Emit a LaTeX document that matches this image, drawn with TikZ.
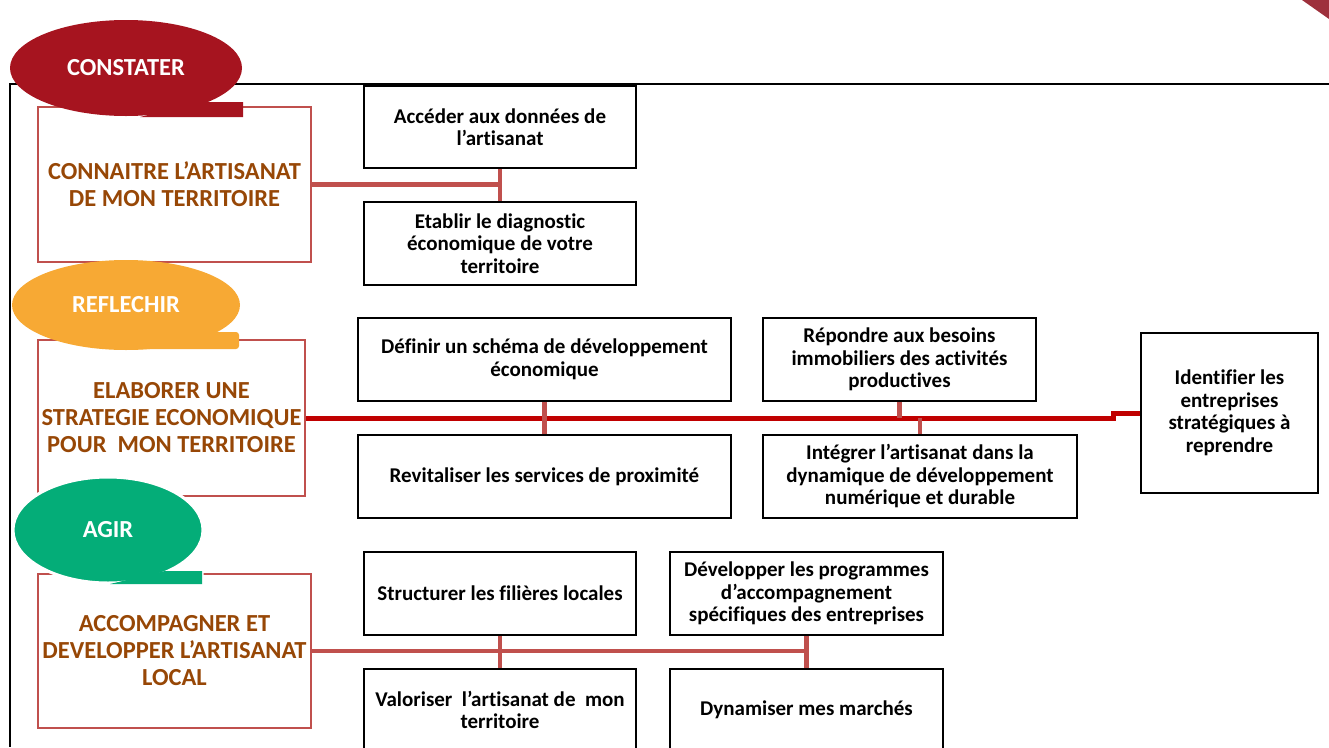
\documentclass[tikz,border=0pt]{standalone}
\usepackage{fontspec}
\setmainfont{Carlito}[Ligatures=NoCommon]
\usetikzlibrary{shapes.geometric}
\definecolor{constred}{RGB}{166,20,31}
\definecolor{reflorange}{RGB}{247,169,52}
\definecolor{agirgreen}{RGB}{4,173,120}
\definecolor{boxred}{RGB}{192,80,77}
\definecolor{mainred}{RGB}{192,0,0}
\definecolor{themebrown}{RGB}{151,71,6}
\definecolor{cornerred}{RGB}{158,48,60}
\begin{document}
\begin{tikzpicture}[x=1pt,y=-1pt,
                box/.style={draw=black,line width=2.2pt,fill=white,align=center,inner sep=0pt,
                  font=\fontsize{21}{22.5}\selectfont\bfseries},
                theme/.style={draw=boxred,line width=2pt,align=center,inner sep=0pt,text=themebrown,
                  font=\fontsize{24.5}{27}\selectfont\bfseries},
                bubble/.style={ellipse,fill=#1,text=white,inner sep=0pt,
                  font=\fontsize{24.5}{27}\selectfont\bfseries},
                link/.style={draw=boxred,line width=4.5pt},
                mainlink/.style={draw=mainred,line width=5pt}]
                \useasboundingbox (0,0) rectangle (1329,747);
                \fill[cornerred] (1302,0) -- (1329,0) -- (1329,19) -- cycle;
                \draw[line width=2.5pt] (1329,84) -- (10,84) -- (10,747);
                % themes
                \node[theme,minimum width=273pt,minimum height=155pt] (connaitre) at (174.5,184.5)
                  {CONNAITRE L’ARTISANAT\\DE MON TERRITOIRE};
                \node[theme,minimum width=267pt,minimum height=156pt] (elaborer) at (171.5,418)
                  {ELABORER UNE\\STRATEGIE ECONOMIQUE\\POUR\ \ MON TERRITOIRE};
                \node[theme,minimum width=273pt,minimum height=154pt] (accompagner) at (174.5,651)
                  {ACCOMPAGNER ET\\DEVELOPPER L’ARTISANAT\\LOCAL};
                % bubbles
                \fill[constred] (200,102) -- (243,102) -- (243,117) -- (140,117) -- cycle;
                \node[bubble=constred,minimum width=232pt,minimum height=96pt] (constater) at (126,68) {CONSTATER};
                \fill[reflorange,rounded corners=3pt] (196,332) -- (239,332) -- (239,349) -- (126,349) -- cycle;
                \node[bubble=reflorange,minimum width=228pt,minimum height=90pt] (reflechir) at (126,305) {REFLECHIR};
                \draw[white,line width=3pt] (165,571) -- (202,571) -- (202,584) -- (110,584) -- cycle;
                \node[bubble=agirgreen,draw=white,line width=3pt,minimum width=190pt,minimum height=106pt] (agir) at (108,530) {AGIR};
                \fill[agirgreen] (165,571) -- (202,571) -- (202,584) -- (110,584) -- cycle;
                % actions
                \node[box,minimum width=272pt,minimum height=82pt] (acceder) at (500,127)
                  {Accéder aux données de\\l’artisanat};
                \node[box,minimum width=272pt,minimum height=83pt] (diagnostic) at (500,243.5)
                  {Etablir le diagnostic\\économique de votre\\territoire};
                \node[box,minimum width=373pt,minimum height=83pt] (definir) at (544.5,359.5)
                  {Définir un schéma de développement\\économique};
                \node[box,minimum width=373pt,minimum height=83pt] (revitaliser) at (544.5,476.5)
                  {Revitaliser les services de proximité};
                \node[box,minimum width=273pt,minimum height=83pt] (repondre) at (899.5,359.5)
                  {Répondre aux besoins\\immobiliers des activités\\productives};
                \node[box,minimum width=314pt,minimum height=83pt] (integrer) at (920,476.5)
                  {Intégrer l’artisanat dans la\\dynamique de développement\\numérique et durable};
                \node[box,minimum width=177pt,minimum height=160pt] (identifier) at (1229.5,413)
                  {Identifier les\\entreprises\\stratégiques à\\reprendre};
                \node[box,minimum width=272pt,minimum height=83pt] (structurer) at (500,593.5)
                  {Structurer les filières locales};
                \node[box,minimum width=273pt,minimum height=83pt] (developper) at (806.5,593.5)
                  {Développer les programmes\\d’accompagnement\\spécifiques des entreprises};
                \node[box,minimum width=272pt,minimum height=82pt] (valoriser) at (500,710)
                  {Valoriser\ \ l’artisanat de\ \ mon\\territoire};
                \node[box,minimum width=273pt,minimum height=82pt] (dynamiser) at (806.5,710)
                  {Dynamiser mes marchés};
                % links
                \draw[link] (connaitre.east) -- (connaitre.east -| acceder.south);
                \draw[link] (acceder.south) -- (diagnostic.north);
                \draw[mainlink] (elaborer.east) -| ([xshift=-26pt]identifier.west) -- (identifier.west);
                \draw[link] (definir.south) -- (revitaliser.north);
                \draw[link] (repondre.south) -- (repondre.south |- elaborer.east);
                \draw[link] (integrer.north) -- (integrer.north |- elaborer.east);
                \draw[link] (accompagner.east) -- (accompagner.east -| developper.south);
                \draw[link] (structurer.south) -- (valoriser.north);
                \draw[link] (developper.south) -- (dynamiser.north);
            \end{tikzpicture}
\end{document}
